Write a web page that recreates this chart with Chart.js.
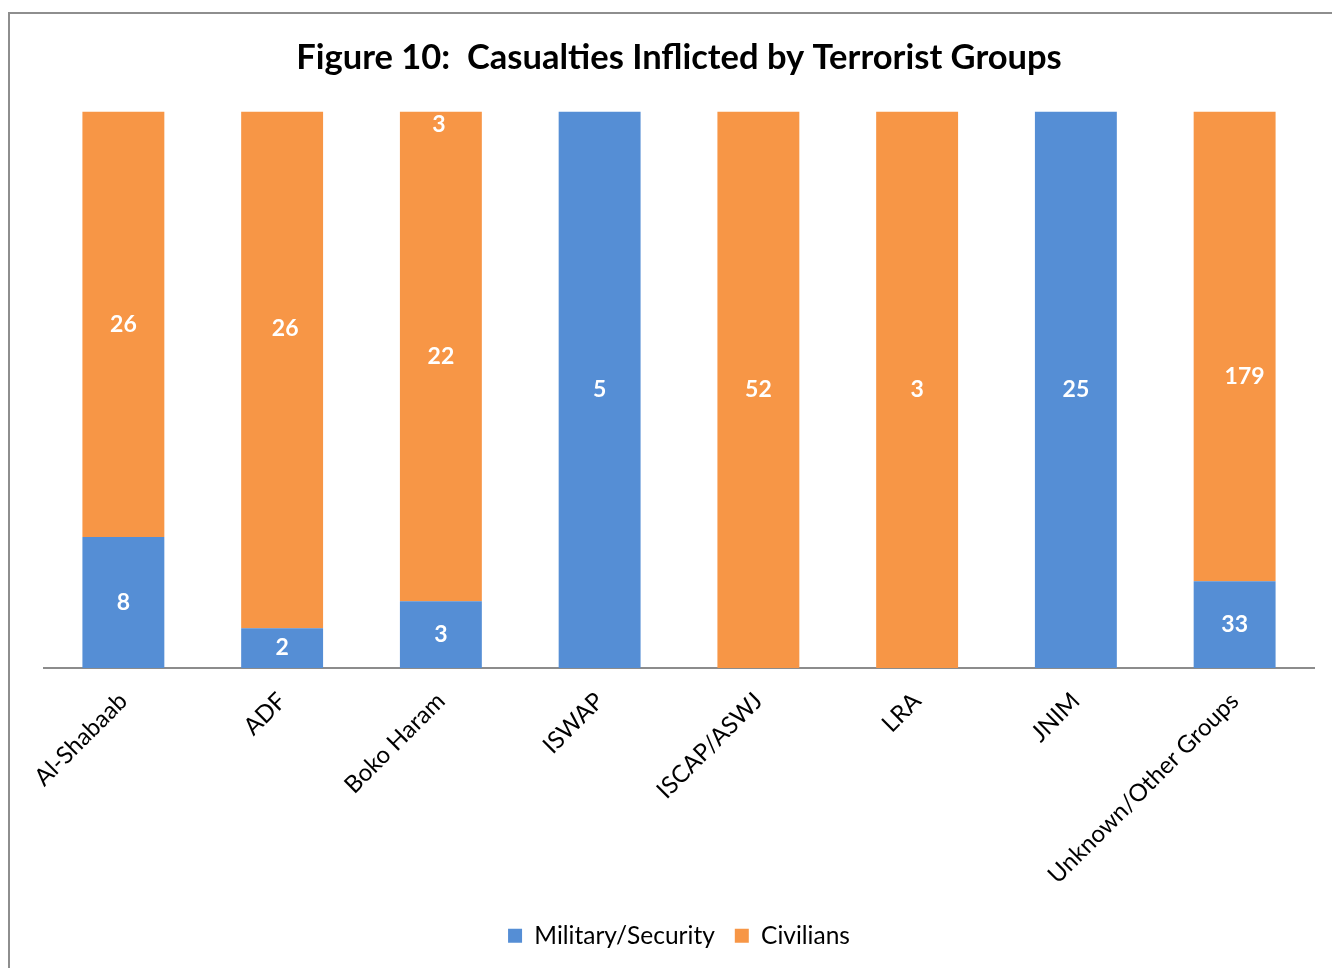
<!DOCTYPE html>
<html>
<head>
<meta charset="utf-8">
<script src="https://cdn.jsdelivr.net/npm/chart.js@4.4.1/dist/chart.umd.min.js"></script>
<style>
  html, body { margin: 0; padding: 0; background: #fff; overflow: hidden; }
  #frame { position: absolute; left: 8px; top: 12px; width: 1400px; height: 1000px;
           border-left: 2px solid #8e8e8e; border-top: 2px solid #8e8e8e; box-sizing: border-box; }
  #wrap { position: absolute; left: 0; top: 0; width: 1332px; height: 968px; }
</style>
</head>
<body>
<div id="frame"></div>
<div id="wrap"><canvas id="c" width="1332" height="968"></canvas></div>
<script>
const categories = ["Al-Shabaab", "ADF", "Boko Haram", "ISWAP", "ISCAP/ASWJ", "LRA", "JNIM", "Unknown/Other Groups"];
const militarySecurity = [8, 2, 3, 5, 0, 0, 25, 33];
const civilians = [26, 26, 22, 0, 52, 3, 0, 179];
const topLabels = [null, null, 3, null, null, null, null, null];
const seriesNames = ["Military/Security", "Civilians"];
const titleText = "Figure 10:  Casualties Inflicted by Terrorist Groups";

const FONT = "Lato, 'Open Sans', sans-serif";
const totals = categories.map((_, i) => militarySecurity[i] + civilians[i]);
const pct = arr => arr.map((v, i) => totals[i] ? v / totals[i] * 100 : 0);

const labelPlugin = {
  id: 'segLabels',
  afterDatasetsDraw(chart, args, opts) {
    const ctx = chart.ctx;
    ctx.save();
    ctx.fillStyle = '#ffffff';
    ctx.font = "bold 23px " + FONT;
    ctx.textAlign = 'center';
    ctx.textBaseline = 'middle';
    chart.data.datasets.forEach((ds, di) => {
      const meta = chart.getDatasetMeta(di);
      meta.data.forEach((el, i) => {
        const v = ds.raw[i];
        if (!v) return;
        const p = el.getProps(['x', 'y', 'base'], true);
        const off = (opts.offsets[di] && opts.offsets[di][i]) || {dx: 0, dy: 0};
        ctx.fillText(String(v), p.x + off.dx, (p.y + p.base) / 2 + off.dy);
      });
    });
    const yTop = chart.scales.y.getPixelForValue(100);
    const meta0 = chart.getDatasetMeta(0);
    topLabels.forEach((v, i) => {
      if (v == null) return;
      const p = meta0.data[i].getProps(['x'], true);
      ctx.fillText(String(v), p.x - 2, yTop + 13);
    });
    ctx.restore();
  }
};

new Chart(document.getElementById('c'), {
  type: 'bar',
  data: {
    labels: categories,
    datasets: [
      { label: seriesNames[0], data: pct(militarySecurity), raw: militarySecurity, backgroundColor: '#558ED5', barPercentage: 0.516, categoryPercentage: 1 },
      { label: seriesNames[1], data: pct(civilians), raw: civilians, backgroundColor: '#F79646', barPercentage: 0.516, categoryPercentage: 1 }
    ]
  },
  options: {
    responsive: false,
    animation: false,
    layout: { padding: { left: 44, right: 18, top: 27, bottom: 10 } },
    plugins: {
      title: { display: true, text: titleText, color: '#000', font: { family: FONT, size: 34.5, weight: 'bold' }, padding: { top: 10, bottom: 33 } },
      legend: { position: 'bottom', labels: { color: '#000', font: { family: FONT, size: 24.5 }, boxWidth: 14, boxHeight: 14, padding: 20 } },
      tooltip: { enabled: false },
      segLabels: { offsets: { 1: { 1: { dx: 3, dy: -41 }, 7: { dx: 10, dy: 30 } } } }
    },
    scales: {
      x: {
        stacked: true,
        grid: { display: false, drawTicks: false },
        border: { display: true, color: '#8c8c8c', width: 2 },
        ticks: { color: '#000', font: { family: FONT, size: 24 }, minRotation: 45, maxRotation: 45, padding: 19, autoSkip: false },
        afterFit: s => { s.height -= 5; }
      },
      y: { stacked: true, display: false, min: 0, max: 100 }
    }
  },
  plugins: [labelPlugin]
});
</script>
</body>
</html>
